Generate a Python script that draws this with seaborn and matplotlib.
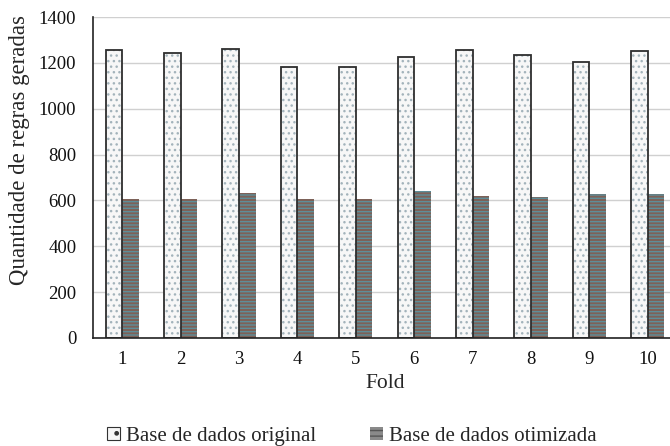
import matplotlib
matplotlib.use("Agg")
import matplotlib.pyplot as plt
from matplotlib.patches import Patch, Rectangle
import seaborn as sns
import pandas as pd

folds = ["1", "2", "3", "4", "5", "6", "7", "8", "9", "10"]
original = [1257, 1242, 1260, 1184, 1184, 1225, 1257, 1235, 1203, 1252]
otimizada = [607, 607, 632, 607, 607, 640, 619, 614, 629, 629]
series_names = ["Base de dados original", "Base de dados otimizada"]
yticks = [0, 200, 400, 600, 800, 1000, 1200, 1400]

df = pd.DataFrame({
    "Fold": folds * 2,
    "valor": original + otimizada,
    "serie": [series_names[0]] * len(folds) + [series_names[1]] * len(folds),
})

sns.set_theme(style="white")
plt.rcParams["font.family"] = ["Liberation Serif", "DejaVu Serif"]
plt.rcParams["hatch.linewidth"] = 1.0

fig = plt.figure(figsize=(6.70, 4.46), dpi=100)
ax = fig.add_axes([93 / 670, (446 - 338) / 446, 584 / 670, 321 / 446])

sns.barplot(data=df, x="Fold", y="valor", hue="serie", order=folds,
            hue_order=series_names, width=0.57, gap=0, ax=ax,
            palette=["#f6f6f6", "#86706a"], legend=False, saturation=1)

styles = {
    0: dict(face="#f7f7f7", hatch="...", hcol="#a3b3bb", edge="#2e2e2e"),
    1: dict(face="#7e6158", hatch="-----", hcol="#5d8e99", edge=None),
}
n = len(folds)
for i, p in enumerate(ax.patches[:2 * n]):
    s = styles[i // n]
    p.set_facecolor(s["face"])
    p.set_hatch(s["hatch"])
    p.set_edgecolor(s["hcol"])
    p.set_linewidth(0)
    if s["edge"]:
        ax.add_patch(Rectangle(p.get_xy(), p.get_width(), p.get_height(),
                               fill=False, edgecolor=s["edge"], linewidth=1.3,
                               zorder=p.get_zorder() + 0.1))

ax.set_ylim(0, 1400)
ax.set_xlim(-0.5, 9.5)
ax.set_yticks(yticks)
ax.set_yticklabels([str(v) for v in yticks])
ax.yaxis.grid(True, color="#d0d0d0", linewidth=1.0)
ax.set_axisbelow(True)
ax.tick_params(axis="both", length=0, labelsize=13.5, colors="#111111")
ax.tick_params(axis="y", pad=12)
ax.tick_params(axis="x", pad=9)
for side in ["top", "right"]:
    ax.spines[side].set_visible(False)
for side in ["left", "bottom"]:
    ax.spines[side].set_color("#222222")
    ax.spines[side].set_linewidth(1.2)

ax.set_xlabel("Fold", fontsize=15.5, labelpad=5)
ax.set_ylabel("Quantidade de regras geradas", fontsize=16.5)
ax.yaxis.set_label_coords(-0.108, (338 - 150) / 321)

handles = [
    Patch(facecolor="#f6f6f6", edgecolor="#333333", hatch=".", linewidth=0.8),
    Patch(facecolor="#8a8a8a", edgecolor="#555555", hatch="---", linewidth=0),
]
fig.legend(handles, series_names, loc="center", bbox_to_anchor=(0.525, 0.022),
           bbox_transform=fig.transFigure, ncol=2, frameon=False,
           fontsize=15, handlelength=0.6, handleheight=0.6,
           handletextpad=0.3, columnspacing=2.6)

fig.savefig("out.png", dpi=100)
